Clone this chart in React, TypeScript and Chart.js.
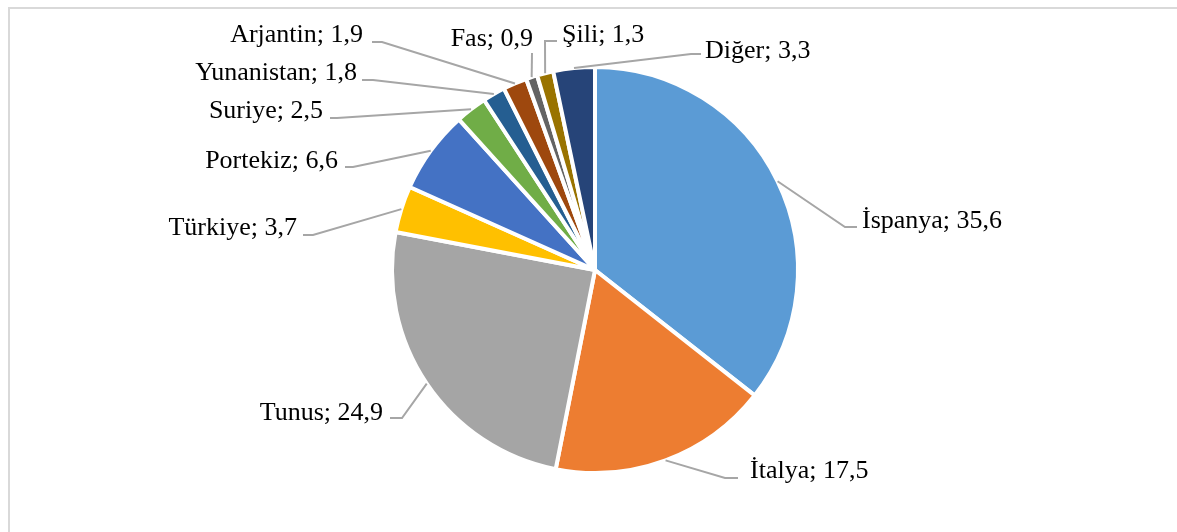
import React, { useEffect, useRef } from "react";
import { Chart, registerables } from "chart.js";

Chart.register(...registerables);

const CATEGORIES = ["İspanya", "İtalya", "Tunus", "Türkiye", "Portekiz", "Suriye", "Yunanistan", "Arjantin", "Fas", "Şili", "Diğer"];
const VALUES = [35.6, 17.5, 24.9, 3.7, 6.6, 2.5, 1.8, 1.9, 0.9, 1.3, 3.3];
const COLORS = ["#5B9BD5", "#ED7D31", "#A5A5A5", "#FFC000", "#4472C4", "#70AD47", "#255E91", "#9E480E", "#636363", "#997300", "#264478"];

// Label layout relative to pie centre: elbow point, leader end, text anchor, alignment
const LABEL_LAYOUT = [
  { elbow: [250, -43], end: [262, -43], tx: 267, ty: -42, align: "left" },
  { elbow: [130, 208], end: [143, 208], tx: 155, ty: 208, align: "left" },
  { elbow: [-193, 148], end: [-205, 148], tx: -212, ty: 150, align: "right" },
  { elbow: [-282, -35], end: [-292, -35], tx: -298, ty: -35, align: "right" },
  { elbow: [-242, -103], end: [-250, -103], tx: -257, ty: -102, align: "right" },
  { elbow: [-258, -152], end: [-265, -152], tx: -272, ty: -152, align: "right" },
  { elbow: [-222, -190], end: [-233, -190], tx: -238, ty: -190, align: "right" },
  { elbow: [-213, -228], end: [-223, -228], tx: -232, ty: -228, align: "right" },
  { elbow: [-63, -217], end: [-63, -217], tx: -62, ty: -224, align: "right" },
  { elbow: [-50, -229], end: [-38, -229], tx: -33, ty: -228, align: "left" },
  { elbow: [96, -216], end: [106, -216], tx: 110, ty: -212, align: "left" },
];

const fmt = (v: number) => v.toFixed(1).replace(".", ",");

const labelPlugin = {
  id: "pieLabels",
  afterDatasetsDraw(chart: any) {
    const ctx = chart.ctx;
    const meta = chart.getDatasetMeta(0);
    ctx.save();
    meta.data.forEach((arc: any, i: number) => {
      const { x, y, startAngle, endAngle, outerRadius } = arc.getProps(
        ["x", "y", "startAngle", "endAngle", "outerRadius"],
        true
      );
      const mid = (startAngle + endAngle) / 2;
      const r = outerRadius;
      const sx = x + Math.cos(mid) * r;
      const sy = y + Math.sin(mid) * r;
      const L = LABEL_LAYOUT[i];
      ctx.beginPath();
      ctx.strokeStyle = "#A6A6A6";
      ctx.lineWidth = 2;
      ctx.moveTo(sx, sy);
      ctx.lineTo(x + L.elbow[0], y + L.elbow[1]);
      ctx.lineTo(x + L.end[0], y + L.end[1]);
      ctx.stroke();
      ctx.fillStyle = "#000000";
      ctx.font = "26px 'Liberation Serif', 'Times New Roman', serif";
      ctx.textAlign = L.align;
      ctx.textBaseline = "alphabetic";
      ctx.fillText(`${CATEGORIES[i]}; ${fmt(VALUES[i])}`, x + L.tx, y + L.ty);
    });
    ctx.restore();
  },
};

export default function App() {
  const ref = useRef<HTMLCanvasElement | null>(null);
  useEffect(() => {
    if (!ref.current) return;
    const chart = new Chart(ref.current, {
      type: "pie",
      data: {
        labels: CATEGORIES,
        datasets: [
          {
            data: VALUES,
            backgroundColor: COLORS,
            borderColor: "#FFFFFF",
            borderWidth: 4,
            hoverOffset: 0,
          },
        ],
      },
      options: {
        responsive: false,
        animation: false,
        radius: 203,
        layout: { padding: { left: 13, right: 0, top: 8, bottom: 0 } },
        plugins: {
          legend: { display: false },
          tooltip: { enabled: false },
          title: { display: false },
        },
      } as any,
      plugins: [labelPlugin as any],
    });
    return () => chart.destroy();
  }, []);

  return (
    <div
      style={{
        position: "fixed",
        left: 0,
        top: 0,
        width: 1177,
        height: 532,
        overflow: "hidden",
        background: "#FFFFFF",
      }}
    >
      <div
        style={{
          position: "absolute",
          left: 8,
          top: 7,
          width: 1250,
          height: 600,
          border: "2px solid #D9D9D9",
          boxSizing: "border-box",
        }}
      />
      <canvas
        ref={ref}
        width={1177}
        height={532}
        style={{ position: "absolute", left: 0, top: 0, width: 1177, height: 532 }}
      />
    </div>
  );
}
